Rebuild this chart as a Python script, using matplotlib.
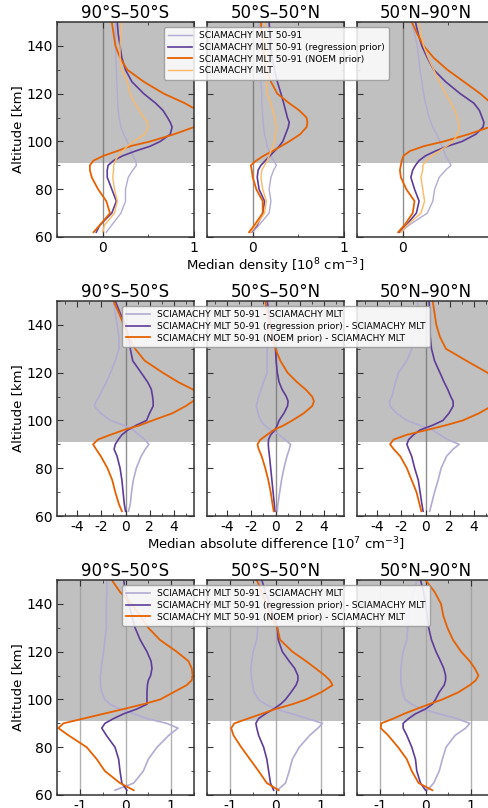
import matplotlib
matplotlib.use("Agg")
import matplotlib.pyplot as plt
from matplotlib.ticker import MultipleLocator

plt.rcParams["axes.unicode_minus"] = False

# common altitude grid [km]
alt = [62, 65, 70, 75, 80, 85, 88, 90, 92, 94, 96, 98, 100, 103, 106, 108,
       110, 113, 116, 120, 125, 130, 135, 140, 145, 150]

regions = ["90°S\u201350°S", "50°S\u201350°N", "50°N\u201390°N"]

# ---- row 1: median density [1e8 cm-3] ----
dens_5091 = [
    [0.04, 0.10, 0.20, 0.25, 0.25, 0.28, 0.33, 0.37, 0.36, 0.33, 0.31, 0.29, 0.27, 0.23, 0.20, 0.19,
     0.18, 0.17, 0.165, 0.16, 0.155, 0.15, 0.145, 0.14, 0.14, 0.14],
    [0.00, 0.07, 0.18, 0.20, 0.18, 0.20, 0.23, 0.26, 0.23, 0.20, 0.18, 0.16, 0.15, 0.13, 0.12, 0.115,
     0.11, 0.105, 0.10, 0.10, 0.09, 0.08, 0.075, 0.07, 0.07, 0.07],
    [-0.02, 0.07, 0.27, 0.33, 0.35, 0.40, 0.47, 0.53, 0.50, 0.47, 0.45, 0.43, 0.41, 0.37, 0.33, 0.31,
     0.29, 0.27, 0.25, 0.23, 0.21, 0.19, 0.175, 0.16, 0.13, 0.10],
]
dens_regr = [
    [-0.07, -0.03, 0.10, 0.15, 0.10, 0.05, 0.05, 0.06, 0.12, 0.22, 0.36, 0.52, 0.63, 0.74, 0.76, 0.74,
     0.71, 0.66, 0.58, 0.45, 0.32, 0.25, 0.21, 0.19, 0.17, 0.16],
    [-0.02, 0.05, 0.11, 0.13, 0.07, 0.05, 0.06, 0.09, 0.14, 0.19, 0.24, 0.29, 0.33, 0.36, 0.39, 0.40,
     0.38, 0.36, 0.34, 0.31, 0.27, 0.24, 0.21, 0.20, 0.19, 0.18],
    [-0.04, 0.04, 0.15, 0.18, 0.13, 0.09, 0.11, 0.14, 0.18, 0.25, 0.36, 0.49, 0.65, 0.80, 0.88, 0.89,
     0.87, 0.84, 0.78, 0.63, 0.47, 0.34, 0.27, 0.21, 0.17, 0.14],
]
dens_noem = [
    [-0.10, -0.03, 0.08, 0.04, -0.05, -0.12, -0.14, -0.14, -0.10, 0.01, 0.16, 0.30, 0.52, 0.78, 1.00, 1.06,
     1.08, 1.04, 0.90, 0.67, 0.45, 0.27, 0.19, 0.14, 0.12, 0.10],
    [-0.04, 0.02, 0.11, 0.11, 0.04, 0.00, -0.01, -0.02, 0.04, 0.12, 0.22, 0.31, 0.40, 0.52, 0.59, 0.60,
     0.59, 0.51, 0.40, 0.27, 0.20, 0.15, 0.13, 0.11, 0.10, 0.09],
    [-0.05, 0.02, 0.11, 0.13, 0.04, -0.02, -0.03, -0.02, -0.01, 0.01, 0.08, 0.23, 0.45, 0.72, 0.95, 1.03,
     1.06, 1.05, 0.97, 0.85, 0.67, 0.49, 0.34, 0.23, 0.16, 0.10],
]
dens_mlt = [
    [0.00, 0.02, 0.13, 0.16, 0.13, 0.11, 0.12, 0.12, 0.14, 0.17, 0.22, 0.27, 0.34, 0.46, 0.50, 0.49,
     0.45, 0.40, 0.35, 0.30, 0.27, 0.21, 0.19, 0.19, 0.20, 0.21],
    [-0.02, 0.04, 0.13, 0.15, 0.11, 0.09, 0.10, 0.13, 0.16, 0.18, 0.20, 0.22, 0.24, 0.25, 0.26, 0.25,
     0.24, 0.22, 0.20, 0.16, 0.15, 0.15, 0.15, 0.15, 0.14, 0.13],
    [-0.02, 0.05, 0.20, 0.24, 0.22, 0.20, 0.22, 0.22, 0.26, 0.32, 0.40, 0.48, 0.55, 0.60, 0.62, 0.61,
     0.60, 0.57, 0.53, 0.47, 0.40, 0.34, 0.28, 0.23, 0.20, 0.18],
]

# ---- row 2: median absolute difference [1e7 cm-3] ----
abs_5091 = [
    [0.25, 0.40, 0.50, 0.65, 0.90, 1.30, 1.65, 1.95, 1.60, 1.10, 0.65, -0.15, -1.25, -2.05, -2.60, -2.45,
     -2.20, -1.90, -1.60, -1.25, -0.85, -0.55, -0.55, -0.70, -0.85, -1.00],
    [0.15, 0.20, 0.35, 0.50, 0.70, 0.95, 1.15, 1.25, 0.80, 0.30, -0.40, -0.90, -1.25, -1.45, -1.60, -1.50,
     -1.40, -1.20, -1.00, -0.70, -0.70, -0.70, -0.65, -0.60, -0.60, -0.60],
    [0.35, 0.50, 0.75, 1.05, 1.30, 1.75, 2.30, 2.80, 1.85, 1.20, 0.60, -0.50, -1.55, -2.40, -2.95, -3.00,
     -2.80, -2.65, -2.50, -2.25, -1.55, -1.15, -1.00, -0.90, -0.75, -0.60],
]
abs_regr = [
    [0.00, -0.10, -0.20, -0.30, -0.45, -0.70, -0.95, -0.85, -0.60, -0.30, 0.20, 0.90, 1.75, 2.00, 2.30, 2.30,
     2.25, 2.15, 1.85, 1.30, 0.60, 0.40, 0.25, 0.00, -0.45, -0.85],
    [-0.05, -0.10, -0.20, -0.30, -0.40, -0.50, -0.57, -0.60, -0.58, -0.40, -0.05, 0.15, 0.30, 0.70, 1.00, 1.05,
     0.90, 0.55, 0.30, 0.15, 0.05, 0.00, -0.20, -0.40, -0.55, -0.70],
    [-0.20, -0.30, -0.45, -0.60, -0.90, -1.15, -1.40, -1.55, -1.40, -1.00, -0.45, 0.60, 1.45, 1.95, 2.30, 2.30,
     2.10, 1.85, 1.55, 1.20, 0.75, 0.50, 0.40, 0.35, 0.35, 0.30],
]
abs_noem = [
    [-0.30, -0.55, -0.85, -1.10, -1.50, -2.05, -2.45, -2.70, -2.30, -1.25, -0.15, 1.20, 2.25, 3.90, 5.00, 5.60,
     6.20, 5.60, 4.40, 3.10, 1.60, 0.80, 0.25, -0.15, -0.55, -1.00],
    [-0.15, -0.25, -0.40, -0.60, -0.85, -1.15, -1.40, -1.50, -1.25, -0.70, -0.15, 0.70, 1.40, 2.35, 3.05, 3.20,
     3.05, 2.50, 1.80, 1.00, 0.40, 0.00, -0.30, -0.50, -0.70, -0.85],
    [-0.35, -0.50, -0.75, -1.15, -1.55, -2.10, -2.65, -2.95, -2.65, -1.55, 0.10, 1.70, 3.10, 4.45, 5.50, 6.00,
     6.30, 6.30, 6.00, 5.15, 3.40, 1.70, 1.20, 0.90, 0.75, 0.60],
]

# ---- row 3: median relative difference ----
rel_5091 = [
    [-0.23, 0.18, 0.39, 0.50, 0.69, 0.95, 1.15, 0.90, 0.47, 0.18, -0.12, -0.34, -0.45, -0.52, -0.55, -0.55,
     -0.55, -0.53, -0.51, -0.48, -0.45, -0.42, -0.42, -0.42, -0.41, -0.41],
    [0.04, 0.22, 0.30, 0.37, 0.52, 0.75, 0.93, 1.03, 0.70, 0.35, 0.00, -0.22, -0.37, -0.47, -0.50, -0.52,
     -0.53, -0.54, -0.52, -0.49, -0.41, -0.39, -0.38, -0.37, -0.35, -0.34],
    [0.04, 0.18, 0.30, 0.37, 0.45, 0.65, 0.88, 0.97, 0.68, 0.30, -0.08, -0.30, -0.45, -0.50, -0.53, -0.54,
     -0.54, -0.54, -0.52, -0.49, -0.41, -0.39, -0.37, -0.34, -0.26, -0.19],
]
rel_regr = [
    [0.03, -0.08, -0.12, -0.15, -0.23, -0.42, -0.52, -0.45, -0.26, -0.04, 0.25, 0.47, 0.47, 0.47, 0.48, 0.50,
     0.55, 0.58, 0.56, 0.47, 0.32, 0.21, 0.14, 0.07, 0.00, -0.04],
    [-0.04, -0.11, -0.15, -0.19, -0.26, -0.37, -0.41, -0.43, -0.37, -0.22, -0.04, 0.11, 0.22, 0.34, 0.45, 0.49,
     0.49, 0.42, 0.30, 0.15, 0.06, 0.04, -0.05, -0.13, -0.22, -0.30],
    [0.00, -0.11, -0.19, -0.22, -0.30, -0.41, -0.49, -0.49, -0.37, -0.22, 0.00, 0.15, 0.22, 0.30, 0.41, 0.44,
     0.44, 0.40, 0.33, 0.23, 0.13, 0.07, 0.04, 0.00, -0.04, -0.11],
]
rel_noem = [
    [0.18, -0.12, -0.45, -0.63, -0.85, -1.25, -1.47, -1.36, -0.92, -0.48, -0.04, 0.39, 0.76, 1.05, 1.34, 1.45,
     1.47, 1.45, 1.38, 1.12, 0.75, 0.50, 0.32, 0.14, -0.12, -0.30],
    [0.07, -0.19, -0.37, -0.56, -0.75, -0.92, -0.97, -0.90, -0.60, -0.30, 0.00, 0.37, 0.67, 1.00, 1.25, 1.19,
     1.08, 0.88, 0.67, 0.37, 0.10, 0.04, -0.10, -0.20, -0.30, -0.41],
    [0.15, -0.15, -0.30, -0.41, -0.60, -0.82, -0.98, -0.97, -0.70, -0.47, -0.20, 0.08, 0.37, 0.72, 0.97, 1.10,
     1.16, 1.08, 0.97, 0.78, 0.60, 0.48, 0.39, 0.34, 0.20, 0.00],
]

c_light = "#b2abd2"
c_dark = "#5e3c99"
c_orange = "#e66101"
c_lorange = "#fdb863"

W, H = 488, 808
fig = plt.figure(figsize=(W / 100, H / 100), dpi=100)

col_x = [57, 207, 357]
row_top = [22, 301, 580]
aw, ah = 137, 215

rows = [
    dict(series=[(dens_5091, c_light, "SCIAMACHY MLT 50-91", 1.0),
                 (dens_regr, c_dark, "SCIAMACHY MLT 50-91 (regression prior)", 1.2),
                 (dens_noem, c_orange, "SCIAMACHY MLT 50-91 (NOEM prior)", 1.3),
                 (dens_mlt, c_lorange, "SCIAMACHY MLT", 1.0)],
         xlim=(-0.5, 1.0), ticks=[0, 1], minor=0.5, vlines=[0], vcol="0.45",
         xlabel="Median density [10$^8$ cm$^{-3}$]", leg=(164, 27)),
    dict(series=[(abs_5091, c_light, "SCIAMACHY MLT 50-91 - SCIAMACHY MLT", 1.2),
                 (abs_regr, c_dark, "SCIAMACHY MLT 50-91 (regression prior) - SCIAMACHY MLT", 1.2),
                 (abs_noem, c_orange, "SCIAMACHY MLT 50-91 (NOEM prior) - SCIAMACHY MLT", 1.3)],
         xlim=(-5.7, 5.7), ticks=[-4, -2, 0, 2, 4], minor=1, vlines=[0], vcol="0.45",
         xlabel="Median absolute difference [10$^7$ cm$^{-3}$]", leg=(122, 306)),
    dict(series=[(rel_5091, c_light, "SCIAMACHY MLT 50-91 - SCIAMACHY MLT", 1.2),
                 (rel_regr, c_dark, "SCIAMACHY MLT 50-91 (regression prior) - SCIAMACHY MLT", 1.2),
                 (rel_noem, c_orange, "SCIAMACHY MLT 50-91 (NOEM prior) - SCIAMACHY MLT", 1.3)],
         xlim=(-1.5, 1.5), ticks=[-1, 0, 1], minor=0.5, vlines=[-1, 0, 1], vcol="0.62",
         xlabel=None, leg=(122, 585)),
]

for r, row in enumerate(rows):
    handles = []
    for c in range(3):
        ax = fig.add_axes([col_x[c] / W, 1 - (row_top[r] + ah) / H, aw / W, ah / H])
        ax.axhspan(91, 150, color="#c0c0c0", lw=0, zorder=0)
        for v in row["vlines"]:
            ax.axvline(v, color=row["vcol"], lw=1.0, alpha=0.8, zorder=1)
        lines = []
        for data, col, lab, lw in row["series"]:
            ln, = ax.plot(data[c], alt, color=col, lw=lw, label=lab, zorder=2)
            lines.append(ln)
        if c == 0:
            handles = lines
            ax.set_ylabel("Altitude [km]", fontsize=9.5, labelpad=2)
        else:
            ax.set_yticklabels([])
        ax.set_xlim(*row["xlim"])
        ax.set_ylim(60, 150)
        ax.set_xticks(row["ticks"])
        ax.xaxis.set_minor_locator(MultipleLocator(row["minor"]))
        ax.yaxis.set_major_locator(MultipleLocator(20))
        ax.yaxis.set_minor_locator(MultipleLocator(10))
        ax.tick_params(which="both", direction="in", top=True, right=True, labelsize=10,
                       color="0.2", pad=3)
        ax.tick_params(which="major", length=4)
        ax.tick_params(which="minor", length=2)
        for sp in ax.spines.values():
            sp.set_color("0.2")
            sp.set_linewidth(1.1)
        ax.set_title(regions[c], fontsize=12, pad=2)
        if c == 1 and row["xlabel"]:
            ax.set_xlabel(row["xlabel"], fontsize=9.5, labelpad=1)
    lx, ly = row["leg"]
    fig.legend(handles=handles, loc="upper left", bbox_to_anchor=(lx / W, 1 - ly / H),
               fontsize=6.6, handlelength=2.6, framealpha=0.85, edgecolor="0.6",
               borderpad=0.45, labelspacing=0.3, borderaxespad=0)

fig.savefig("out.png", dpi=100)
